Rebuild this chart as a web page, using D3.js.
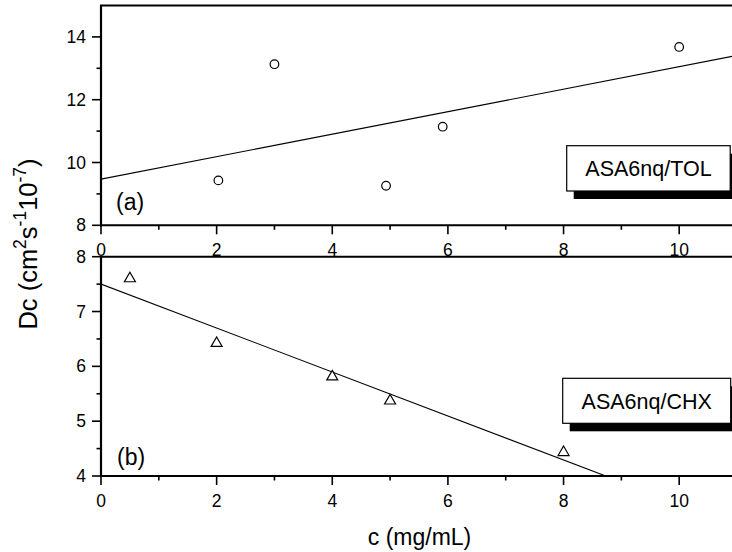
<!DOCTYPE html>
<html>
<head>
<meta charset="utf-8">
<script src="https://cdn.jsdelivr.net/npm/d3@7"></script>
<style>
  html, body { margin: 0; padding: 0; background: #fff; }
  svg { display: block; font-family: "Liberation Sans", Arial, sans-serif; }
</style>
</head>
<body>
<svg id="chart" width="732" height="552"></svg>
<script>
// Panel (a): ASA6nq in toluene
const tolC  = [2.03, 3.0, 4.93, 5.91, 10.0];
const tolDc = [9.43, 13.13, 9.26, 11.14, 13.68];
const tolFitC  = [0, 11];
const tolFitDc = [9.47, 13.41];

// Panel (b): ASA6nq in cyclohexane
const chxC  = [0.5, 2, 4, 5, 8];
const chxDc = [7.63, 6.45, 5.84, 5.40, 4.46];
const chxFitC  = [0, 11];
const chxFitDc = [7.50, 3.09];

// Axis ticks
const xTicks = [0, 2, 4, 6, 8, 10];
const xMinor = [1, 3, 5, 7, 9];
const tolTicks = [8, 10, 12, 14];
const tolMinor = [9, 11, 13];
const chxTicks = [4, 5, 6, 7, 8];
const chxMinor = [4.5, 5.5, 6.5, 7.5];

const legendTol = "ASA6nq/TOL";
const legendChx = "ASA6nq/CHX";

const svg = d3.select("#chart");

const x = d3.scaleLinear().domain([0, 11]).range([101, 737]);
const yTop = d3.scaleLinear().domain([8, 15]).range([225.3, 5.5]);
const yBot = d3.scaleLinear().domain([4, 8]).range([476, 256.7]);

const MAJ = 9, MIN = 4.5;

function panel(id, y, ticks, minor) {
  const g = svg.append("g");
  const [y0, y1] = y.range();   // bottom, top
  const [x0, x1] = x.range();

  g.append("clipPath").attr("id", id)
    .append("rect").attr("x", x0).attr("y", y1).attr("width", x1 - x0).attr("height", y0 - y1);

  // frame: top border, left axis, bottom axis
  g.append("line").attr("x1", x0 - 1).attr("x2", x1).attr("y1", y1).attr("y2", y1)
    .attr("stroke", "#000").attr("stroke-width", 2);
  g.append("line").attr("x1", x0).attr("x2", x0).attr("y1", y1).attr("y2", y0 + 1)
    .attr("stroke", "#000").attr("stroke-width", 2.2);
  g.append("line").attr("x1", x0 - 1).attr("x2", x1).attr("y1", y0).attr("y2", y0)
    .attr("stroke", "#000").attr("stroke-width", 2);

  // left axis ticks
  g.selectAll(".ymaj").data(ticks).join("line")
    .attr("x1", x0 - MAJ).attr("x2", x0).attr("y1", d => y(d)).attr("y2", d => y(d))
    .attr("stroke", "#000").attr("stroke-width", 1.6);
  g.selectAll(".ymin").data(minor).join("line")
    .attr("x1", x0 - MIN).attr("x2", x0).attr("y1", d => y(d)).attr("y2", d => y(d))
    .attr("stroke", "#000").attr("stroke-width", 1.6);
  g.selectAll(".ylab").data(ticks).join("text")
    .attr("x", x0 - 15).attr("y", d => y(d) + 6)
    .attr("text-anchor", "end").attr("font-size", 17.5).text(d => d);

  // bottom axis ticks
  g.selectAll(".xmaj").data(xTicks).join("line")
    .attr("x1", d => x(d)).attr("x2", d => x(d)).attr("y1", y0).attr("y2", y0 + MAJ)
    .attr("stroke", "#000").attr("stroke-width", 1.6);
  g.selectAll(".xmin").data(xMinor).join("line")
    .attr("x1", d => x(d)).attr("x2", d => x(d)).attr("y1", y0).attr("y2", y0 + MIN)
    .attr("stroke", "#000").attr("stroke-width", 1.6);
  g.selectAll(".xlab").data(xTicks).join("text")
    .attr("x", d => x(d)).attr("y", y0 + 31)
    .attr("text-anchor", "middle").attr("font-size", 17.5).text(d => d);

  return g;
}

function legend(g, text, bx, by, bw, bh) {
  g.append("rect").attr("x", bx + 7).attr("y", by + 8).attr("width", bw).attr("height", bh)
    .attr("fill", "#000");
  g.append("rect").attr("x", bx).attr("y", by).attr("width", bw).attr("height", bh)
    .attr("fill", "#fff").attr("stroke", "#000").attr("stroke-width", 1.2);
  g.append("text").attr("x", bx + bw / 2).attr("y", by + bh / 2 + 7.8)
    .attr("text-anchor", "middle").attr("font-size", 21.5).text(text);
}

// ---- panel (a)
const gA = panel("clipA", yTop, tolTicks, tolMinor);
gA.append("path")
  .datum(tolFitC.map((c, i) => [c, tolFitDc[i]]))
  .attr("clip-path", "url(#clipA)")
  .attr("fill", "none").attr("stroke", "#000").attr("stroke-width", 1.1)
  .attr("d", d3.line().x(d => x(d[0])).y(d => yTop(d[1])));
gA.selectAll(".pt").data(tolC.map((c, i) => [c, tolDc[i]])).join("circle")
  .attr("cx", d => x(d[0])).attr("cy", d => yTop(d[1])).attr("r", 4.3)
  .attr("fill", "#fff").attr("stroke", "#000").attr("stroke-width", 1.2);
legend(gA, legendTol, 566.7, 145.7, 163.5, 45.3);
gA.append("text").attr("x", 116).attr("y", 210).attr("font-size", 23).text("(a)");

// ---- panel (b)
const gB = panel("clipB", yBot, chxTicks, chxMinor);
gB.append("path")
  .datum(chxFitC.map((c, i) => [c, chxFitDc[i]]))
  .attr("clip-path", "url(#clipB)")
  .attr("fill", "none").attr("stroke", "#000").attr("stroke-width", 1.1)
  .attr("d", d3.line().x(d => x(d[0])).y(d => yBot(d[1])));
const tw = 11, th = 9.5;
gB.selectAll(".tri").data(chxC.map((c, i) => [c, chxDc[i]])).join("path")
  .attr("transform", d => `translate(${x(d[0])},${yBot(d[1])})`)
  .attr("d", `M0,${-th / 2}L${tw / 2},${th / 2}L${-tw / 2},${th / 2}Z`)
  .attr("fill", "#fff").attr("stroke", "#000").attr("stroke-width", 1.2);
legend(gB, legendChx, 562.7, 378.3, 168, 45);
gB.append("text").attr("x", 117).attr("y", 465).attr("font-size", 23).text("(b)");

// ---- axis titles
svg.append("text").attr("x", 419.5).attr("y", 545)
  .attr("text-anchor", "middle").attr("font-size", 23).text("c (mg/mL)");

const yt = svg.append("text")
  .attr("transform", "translate(37,244) rotate(-90)")
  .attr("text-anchor", "middle").attr("font-size", 25.5);
yt.append("tspan").text("Dc (cm");
yt.append("tspan").attr("font-size", 17.5).attr("dy", -11).text("2");
yt.append("tspan").attr("dy", 11).text("s");
yt.append("tspan").attr("font-size", 17.5).attr("dy", -11).text("-1");
yt.append("tspan").attr("dy", 11).text("10");
yt.append("tspan").attr("font-size", 17.5).attr("dy", -11).text("-7");
yt.append("tspan").attr("dy", 11).text(")");
</script>
</body>
</html>
